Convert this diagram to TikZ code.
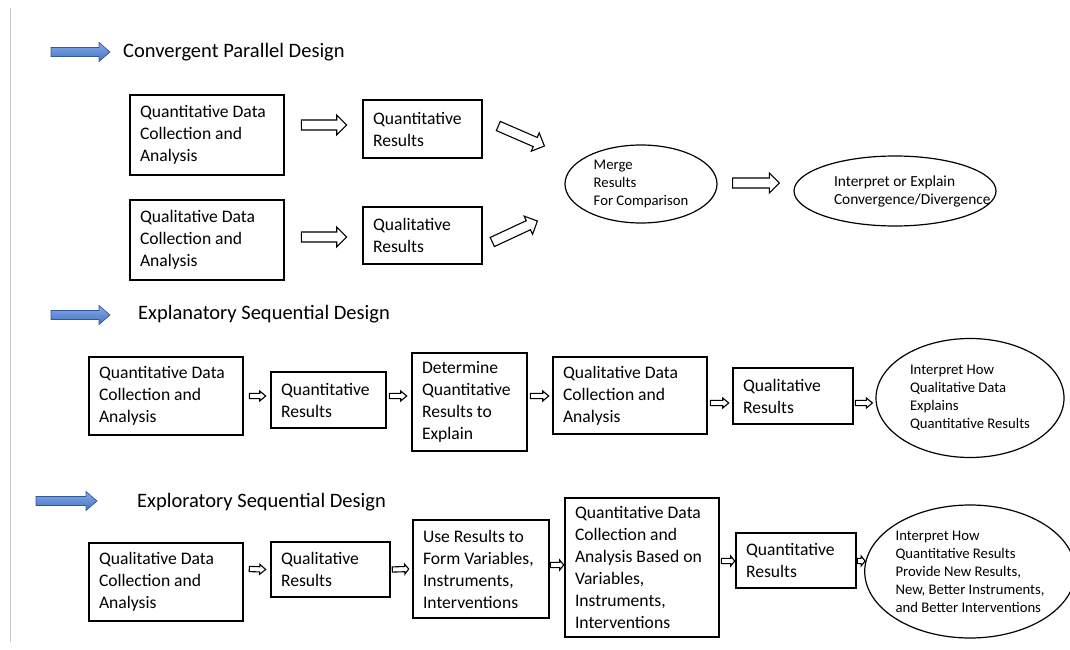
\documentclass[tikz,border=0pt]{standalone}
\usepackage{fontspec}
\setmainfont{Carlito}
\usetikzlibrary{calc,shapes.geometric}
\definecolor{bluetop}{RGB}{132,172,230}
\definecolor{bluebot}{RGB}{68,114,196}
\definecolor{blueedge}{RGB}{50,88,150}
% block arrow: [style]{from}{to}{shaft half width}{head half width}{head length}
\newcommand{\blockarrow}[6][]{%
\path (#2) coordinate (ba-s) (#3) coordinate (ba-e) ($(ba-e)!#6!(ba-s)$) coordinate (ba-h);
\draw[#1] ($(ba-s)!#4!90:(ba-e)$) -- ($(ba-h)!#4!90:(ba-e)$) -- ($(ba-h)!#5!90:(ba-e)$) -- (ba-e) -- ($(ba-h)!#5!-90:(ba-e)$) -- ($(ba-h)!#4!-90:(ba-e)$) -- ($(ba-s)!#4!-90:(ba-e)$) -- cycle;}
\newcommand{\bigarrow}[2]{\blockarrow[hollow]{#1}{#2}{5pt}{10pt}{10pt}}
\newcommand{\smallarrow}[2]{\blockarrow[hollow]{#1}{#2}{2.6pt}{5pt}{6pt}}
\newcommand{\thinarrow}[2]{\blockarrow[hollow]{#1}{#2}{2.6pt}{5pt}{4pt}}
\newcommand{\bluearrow}[2]{\blockarrow[blue arrow]{#1}{#2}{4.5pt}{9.5pt}{11pt}}

\begin{document}
\begin{tikzpicture}[x=1pt,y=-1pt,
  box/.style={draw, line width=2.6pt, align=flush left, inner xsep=10pt, inner ysep=0pt, font=\fontsize{17.6}{22}\selectfont},
  oval/.style={draw, ellipse, line width=1.2pt, align=flush left, inner sep=0pt, font=\fontsize{14.7}{18}\selectfont},
  title/.style={anchor=west, inner sep=0pt, font=\fontsize{20.5}{24}\selectfont},
  hollow/.style={draw, fill=white, line width=1.1pt},
  blue arrow/.style={draw=blueedge, line width=0.7pt, top color=bluetop, bottom color=bluebot}]
\useasboundingbox (0,0) rectangle (1070,650);
\draw[gray!45, line width=1pt] (10,8) -- (10,642);

% convergent parallel
\node[title] (t1) at (123,52) {Convergent Parallel Design};
\bluearrow{$(t1.west)+(-72,0)$}{$(t1.west)+(-13,0)$}
\node[box, text width=134pt, minimum height=80pt] (q1) at (207,135) {Quantitative Data\\Collection and\\Analysis};
\node[box, text width=99pt, minimum height=58pt] (qr1) at (422.5,129) {Quantitative\\Results};
\node[box, text width=134pt, minimum height=80pt] (q2) at (207,240) {Qualitative Data\\Collection and\\Analysis};
\node[box, text width=99pt, minimum height=57pt] (qr2) at (422.5,235.5) {Qualitative\\Results};
\node[oval, minimum width=152pt, minimum height=78pt] (merge) at (641,184) {Merge\\Results\\For Comparison};
\node[oval, font=\fontsize{15.4}{18}\selectfont, text width=122pt, minimum width=202pt, minimum height=70pt] (interp) at (895,191) {Interpret or Explain\\Convergence/Divergence};
\bigarrow{$(q1.east)+(16,-10)$}{$(qr1.west)+(-15,-4)$}
\bigarrow{$(q2.east)+(16,-3)$}{$(qr2.west)+(-15,1.5)$}
\bigarrow{$(qr1.east)+(15,-3)$}{$(merge.west)+(-20,-38)$}
\bigarrow{$(qr2.east)+(9,6.5)$}{$(merge.west)+(-27,37)$}
\bigarrow{$(merge.east)+(15,-1)$}{$(interp.west)+(-14,-8)$}

% explanatory sequential
\node[title] (t2) at (138,314) {Explanatory Sequential Design};
\bluearrow{$(t2.west)+(-87,1)$}{$(t2.west)+(-28,1)$}
\node[box, text width=134pt, minimum height=78pt] (e1) at (166,396) {Quantitative Data\\Collection and\\Analysis};
\node[box, text width=95pt, minimum height=56pt] (e2) at (328.5,400) {Quantitative\\Results};
\node[box, text width=95pt, minimum height=98pt] (e3) at (469.5,402) {Determine\\Quantitative\\Results to\\Explain};
\node[box, text width=134pt, minimum height=77pt] (e4) at (630,395.5) {Qualitative Data\\Collection and\\Analysis};
\node[box, text width=100pt, minimum height=56pt] (e5) at (793,396) {Qualitative\\Results};
\node[oval, minimum width=188pt, minimum height=119pt] (e6) at (970,398) {Interpret How\\Qualitative Data\\Explains\\Quantitative Results};
\smallarrow{$(e1.east)+(5,0)$}{$(e2.west)+(-4,-4)$}
\smallarrow{$(e2.east)+(2,-4)$}{$(e3.west)+(-4,-6)$}
\smallarrow{$(e3.east)+(2,-6)$}{$(e4.west)+(-3,0.5)$}
\smallarrow{$(e4.east)+(2,7.5)$}{$(e5.west)+(-3,7)$}
\smallarrow{$(e5.east)+(1,7)$}{$(e6.west)+(-3,5)$}

% exploratory sequential
\node[title] (t3) at (137,502) {Exploratory Sequential Design};
\bluearrow{$(t3.west)+(-101,-1)$}{$(t3.west)+(-40,-1)$}
\node[box, text width=134pt, minimum height=78pt] (x1) at (166,582) {Qualitative Data\\Collection and\\Analysis};
\node[box, text width=99pt, minimum height=55pt] (x2) at (330.5,569.5) {Qualitative\\Results};
\node[box, text width=116pt, minimum height=98pt] (x3) at (481,569) {Use Results to\\Form Variables,\\Instruments,\\Interventions};
\node[box, text width=134pt, minimum height=139pt] (x4) at (642,567.5) {Quantitative Data\\Collection and\\Analysis Based on\\Variables,\\Instruments,\\Interventions};
\node[box, text width=100pt, minimum height=55pt] (x5) at (796,560.5) {Quantitative\\Results};
\node[oval, minimum width=196pt, minimum height=133pt] (x6) at (970,571.5) {Interpret How\\Quantitative Results\\Provide New Results,\\New, Better Instruments,\\and Better Interventions};
\smallarrow{$(x1.east)+(5,-13)$}{$(x2.west)+(-4,0)$}
\thinarrow{$(x2.east)+(1,0)$}{$(x3.west)+(-3,0)$}
\thinarrow{$(x3.east)+(0,-4)$}{$(x4.west)+(0,-2.5)$}
\thinarrow{$(x4.east)+(1,-6.5)$}{$(x5.west)+(0,0.5)$}
\thinarrow{$(x5.east)+(0,0.5)$}{$(x6.west)+(1,-10.5)$}
\end{tikzpicture}
\end{document}
